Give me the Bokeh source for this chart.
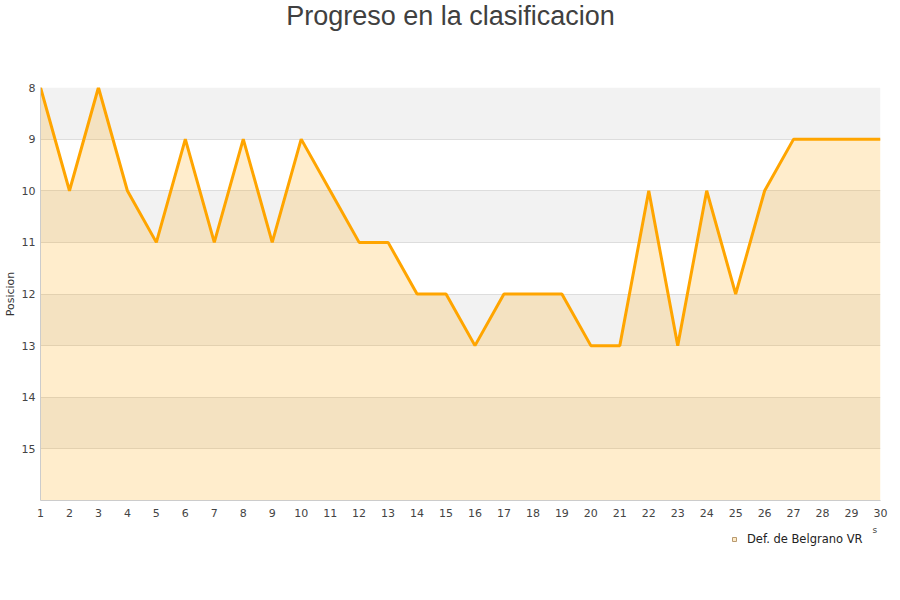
from bokeh.plotting import figure
from bokeh.layouts import column
from bokeh.models import Range1d, FixedTicker, Legend, LegendItem, Label
from bokeh.embed import file_html
from bokeh.resources import INLINE

rounds = list(range(1, 31))
positions = [8, 10, 8, 10, 11, 9, 11, 9, 11, 9, 10, 11, 11, 12, 12, 13, 12, 12, 12, 13, 13, 10, 13, 10, 12, 10, 9, 9, 9, 9]
team = "Def. de Belgrano VR"
title_text = "Progreso en la clasificacion"
y_ticks = [8, 9, 10, 11, 12, 13, 14, 15]
band_tops = [8, 10, 12, 14]
band_bottoms = [9, 11, 13, 15]
y_min, y_max = 8, 16

# title strip
p0 = figure(width=900, height=40, output_backend="svg", toolbar_location=None,
            x_range=Range1d(40, 880), y_range=Range1d(0, 40),
            x_axis_location=None, y_axis_location=None,
            min_border_left=40, min_border_right=20, min_border_top=0, min_border_bottom=0,
            outline_line_color=None)
p0.grid.visible = False
p0.add_layout(Label(x=450, y=25, text=title_text, text_align="center", text_baseline="middle",
                    text_font="Liberation Sans", text_font_size="27px", text_color="#404040"))

# main chart
p = figure(width=900, height=485, output_backend="svg", toolbar_location=None,
           x_range=Range1d(1, 30), y_range=Range1d(y_max, y_min),
           min_border_left=40, min_border_right=20, min_border_top=47, min_border_bottom=25)
p.title = None
p.outline_line_color = None
p.background_fill_color = "white"

bands = p.quad(left=[rounds[0]] * len(band_tops), right=[rounds[-1]] * len(band_tops),
               top=band_tops, bottom=band_bottoms, fill_color="#f2f2f2", line_color=None)
bands.level = "image"

p.varea(x=rounds, y1=positions, y2=[y_max] * len(rounds), fill_color="#ffa500", fill_alpha=0.2)
p.line(x=rounds, y=positions, line_color="#ffa500", line_width=3)

p.xgrid.visible = False
p.ygrid.grid_line_color = "#dddddd"
p.ygrid.ticker = FixedTicker(ticks=y_ticks)

p.yaxis.ticker = FixedTicker(ticks=y_ticks)
p.xaxis.ticker = FixedTicker(ticks=rounds)
for ax in (p.xaxis[0], p.yaxis[0]):
    ax.axis_line_color = "#cccccc"
    ax.major_tick_line_color = None
    ax.minor_tick_line_color = None
    ax.major_tick_out = 0
    ax.major_tick_in = 0
    ax.minor_tick_out = 0
    ax.major_label_text_font = "DejaVu Sans"
    ax.major_label_text_font_size = "11px"
    ax.major_label_text_color = "#444444"
p.xaxis.major_label_standoff = 8
p.yaxis.major_label_standoff = 5
p.yaxis.axis_label = "Posicion"
p.yaxis.axis_label_text_font = "DejaVu Sans"
p.yaxis.axis_label_text_font_size = "11px"
p.yaxis.axis_label_text_font_style = "normal"
p.yaxis.axis_label_text_color = "#333333"
p.yaxis.axis_label_standoff = 2

# legend strip below the chart
p2 = figure(width=900, height=75, output_backend="svg", toolbar_location=None,
            x_range=Range1d(0, 840), y_range=Range1d(75, 0),
            x_axis_location=None, y_axis_location=None,
            min_border_left=40, min_border_right=20, min_border_top=0, min_border_bottom=0,
            outline_line_color=None)
p2.grid.visible = False
dummy = p2.scatter(x=[0], y=[0], marker="square", size=8,
                   fill_color="#ffebc8", line_color="#b89a70", visible=False)
legend = Legend(items=[LegendItem(label=team, renderers=[dummy])], location=(689, 54),
                glyph_width=10, glyph_height=10, label_text_font="DejaVu Sans",
                label_text_font_size="11.5px", label_text_color="#222222",
                border_line_color=None, background_fill_alpha=0, padding=2, spacing=0,
                margin=0, label_standoff=8)
p2.add_layout(legend, "center")
p2.add_layout(Label(x=832, y=9, text="s", text_font="DejaVu Sans", text_font_size="9px",
                    text_color="#444444"))

layout = column(p0, p, p2, spacing=0)
open("out.html", "w").write(file_html(layout, INLINE))
